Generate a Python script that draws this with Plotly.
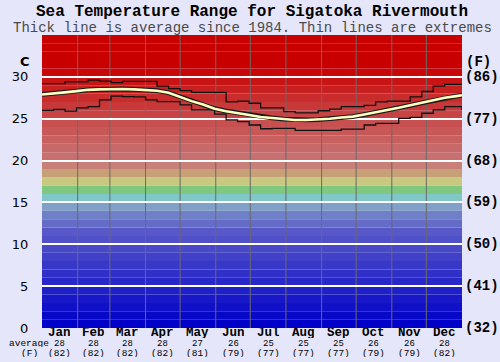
import plotly.graph_objects as go

# ---------------- data ----------------
months = ["Jan", "Feb", "Mar", "Apr", "May", "Jun", "Jul", "Aug", "Sep", "Oct", "Nov", "Dec"]
month_days = [31, 28, 31, 30, 31, 30, 31, 31, 30, 31, 30, 31]
month_avg_c = [28, 28, 28, 28, 27, 26, 25, 25, 25, 26, 26, 28]
month_avg_f = [82, 82, 82, 82, 81, 79, 77, 77, 77, 79, 79, 82]

days = [0, 10, 20, 30, 40, 50, 60, 70, 80, 90, 100, 110, 120, 130, 140, 150, 160, 170, 180,
        190, 200, 210, 220, 230, 240, 250, 260, 270, 280, 290, 300, 310, 320, 330, 340, 350, 360, 365]
avg_temp = [27.9, 28.0, 28.15, 28.3, 28.45, 28.5, 28.55, 28.55, 28.5, 28.45, 28.35, 28.1, 27.6,
            27.1, 26.7, 26.2, 25.9, 25.7, 25.45, 25.2, 25.1, 24.95, 24.85, 24.85, 24.9, 25.0,
            25.15, 25.25, 25.5, 25.75, 26.0, 26.3, 26.6, 26.9, 27.2, 27.5, 27.7, 27.8]
max_temp = [29.2, 29.2, 29.4, 29.4, 29.6, 29.5, 29.3, 29.45, 29.45, 29.45, 28.9, 28.6, 28.35,
            28.15, 28.15, 28.15, 27.0, 27.1, 26.85, 26.3, 26.3, 25.85, 25.7, 25.7, 25.95, 26.15,
            26.45, 26.45, 26.6, 27.0, 27.1, 27.1, 27.6, 28.25, 28.9, 29.1, 29.1, 29.1]
min_temp = [26.0, 26.1, 25.9, 26.3, 26.45, 27.25, 27.7, 27.65, 27.6, 27.25, 27.05, 27.05, 26.65,
            26.05, 26.05, 25.55, 24.85, 24.65, 24.25, 23.8, 23.85, 23.85, 23.6, 23.6, 23.6, 23.6,
            23.75, 23.75, 24.25, 24.45, 24.45, 25.05, 25.15, 25.65, 26.05, 26.45, 26.45, 26.05]

c_ticks = [0, 5, 10, 15, 20, 25, 30]

band_colors = [
    (0, 0, 200), (8, 8, 200), (16, 16, 200), (24, 24, 200), (32, 32, 200), (40, 40, 200),
    (48, 48, 200), (56, 56, 200), (64, 64, 200), (72, 72, 200), (80, 80, 200), (88, 88, 200),
    (100, 108, 200), (112, 128, 200), (128, 160, 200), (128, 200, 200), (128, 200, 128),
    (200, 200, 128), (200, 160, 120), (200, 128, 120), (200, 112, 112), (200, 104, 104),
    (200, 96, 96), (200, 88, 88), (200, 80, 80), (200, 68, 68), (200, 56, 56), (200, 44, 44),
    (200, 32, 32), (200, 20, 20), (200, 8, 8), (200, 0, 0), (200, 0, 0), (200, 0, 0), (200, 0, 0),
]

# ---------------- figure ----------------
MONO = "Liberation Mono, Courier New, monospace"
SANS = "DejaVu Sans, Verdana, sans-serif"

fig = go.Figure()

fig.add_trace(go.Scatter(x=days, y=max_temp, mode="lines", line=dict(color="#111111", width=1.3, shape="hv"),
                         hoverinfo="skip", showlegend=False))
fig.add_trace(go.Scatter(x=days, y=min_temp, mode="lines", line=dict(color="#111111", width=1.3, shape="hv"),
                         hoverinfo="skip", showlegend=False))
fig.add_trace(go.Scatter(x=days, y=avg_temp, mode="lines", line=dict(color="#1a1a1a", width=4.8),
                         hoverinfo="skip", showlegend=False))
fig.add_trace(go.Scatter(x=days, y=avg_temp, mode="lines", line=dict(color="#FFFFC0", width=2.6),
                         hoverinfo="skip", showlegend=False))

shapes = []
for i, (r, g, b) in enumerate(band_colors):
    shapes.append(dict(type="rect", xref="paper", yref="y", x0=0, x1=1, y0=i, y1=i + 1,
                       fillcolor=f"rgb({r},{g},{b})", line=dict(width=0), layer="below"))

# month boundaries and centres
bounds = [0]
for d in month_days:
    bounds.append(bounds[-1] + d)
centres = [(bounds[i] + bounds[i + 1]) / 2 for i in range(12)]
for bx in bounds[1:-1]:
    shapes.append(dict(type="line", xref="x", yref="paper", x0=bx, x1=bx, y0=0, y1=1,
                       line=dict(color="#6a6a6a", width=1), layer="below"))

annotations = []
for i, m in enumerate(months):
    annotations.append(dict(x=centres[i], y=0, xref="x", yref="paper", text=f"<b>{m}</b>",
                            showarrow=False, yanchor="middle", yshift=-5, height=10, borderpad=0,
                            font=dict(family=MONO, size=12.5, color="black")))
    annotations.append(dict(x=centres[i], y=0, xref="x", yref="paper", text=str(month_avg_c[i]),
                            showarrow=False, yanchor="middle", yshift=-15.5, height=8, borderpad=0,
                            font=dict(family=MONO, size=9, color="black")))
    annotations.append(dict(x=centres[i], y=0, xref="x", yref="paper", text=f"({month_avg_f[i]})",
                            showarrow=False, yanchor="middle", yshift=-24.5, height=8, borderpad=0,
                            font=dict(family=MONO, size=9.5, color="black")))
annotations.append(dict(x=0, y=0, xref="paper", yref="paper", text="average", showarrow=False,
                        xanchor="center", yanchor="middle", xshift=-13, yshift=-15, height=8, borderpad=0,
                        font=dict(family=MONO, size=9.5, color="black")))
annotations.append(dict(x=0, y=0, xref="paper", yref="paper", text="(F)", showarrow=False,
                        xanchor="center", yanchor="middle", xshift=-13, yshift=-25, height=8, borderpad=0,
                        font=dict(family=MONO, size=9.5, color="black")))

for c in c_ticks:
    annotations.append(dict(x=1, y=c, xref="paper", yref="y", text=f"<b>({round(c * 9 / 5 + 32)})</b>",
                            showarrow=False, xanchor="left", yanchor="middle", xshift=1,
                            font=dict(family=MONO, size=14, color="black")))
annotations.append(dict(x=1, y=31.8, xref="paper", yref="y", text="<b>(F)</b>", showarrow=False,
                        xanchor="left", yanchor="middle", xshift=2,
                        font=dict(family=MONO, size=14, color="black")))
annotations.append(dict(x=0, y=31.8, xref="paper", yref="y", text="<b>C</b>", showarrow=False,
                        xanchor="center", yanchor="middle", xshift=-17,
                        font=dict(family=SANS, size=13, color="black")))

annotations.append(dict(x=0.5, y=1, xref="paper", yref="paper",
                        text="<b>Sea Temperature Range for Sigatoka Rivermouth</b>",
                        showarrow=False, yanchor="middle", yshift=23,
                        font=dict(family=MONO, size=16, color="black")))
annotations.append(dict(x=0.5, y=1, xref="paper", yref="paper",
                        text="Thick line is average since 1984. Thin lines are extremes",
                        showarrow=False, yanchor="middle", yshift=7,
                        font=dict(family=MONO, size=14, color="#4a4a4a")))

fig.update_layout(
    width=500, height=362,
    margin=dict(l=35, r=38, t=35, b=34),
    paper_bgcolor="#E6E6FA",
    plot_bgcolor="rgba(0,0,0,0)",
    shapes=shapes,
    annotations=annotations,
    xaxis=dict(range=[0, 365], showgrid=False, zeroline=False, showticklabels=False, ticks="",
               fixedrange=True),
    yaxis=dict(range=[0, 35], tickvals=c_ticks, ticktext=[str(c) for c in c_ticks],
               showgrid=True, gridcolor="white", gridwidth=1.8, zeroline=False,
               ticks="outside", ticklen=10, tickcolor="rgba(0,0,0,0)",
               tickfont=dict(family=SANS, size=13, color="black"), fixedrange=True),
    showlegend=False,
)

fig.write_html("out.html", config={"displayModeBar": False},
               post_script="document.body.style.margin='0';document.body.style.padding='0';"
                           "document.body.style.overflow='hidden';")
